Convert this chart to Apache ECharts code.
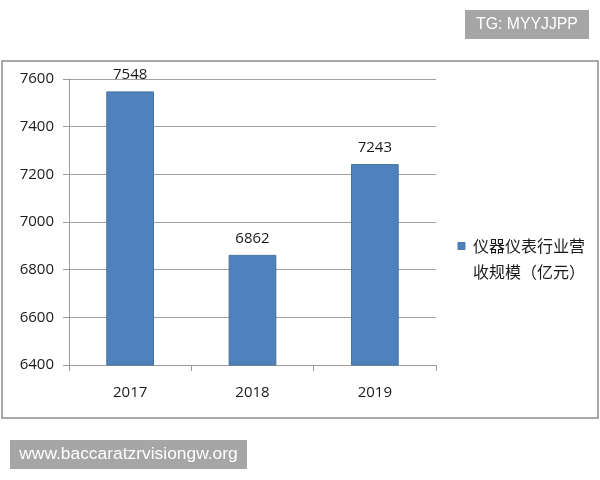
<!DOCTYPE html>
<html>
<head>
<meta charset="utf-8">
<script src="https://cdn.jsdelivr.net/npm/echarts@6/dist/echarts.min.js"></script>
<style>
  html, body { margin: 0; padding: 0; background: #fff; }
  #chart { width: 600px; height: 480px; }
</style>
</head>
<body>
<div id="chart"></div>
<script>
const years = ['2017', '2018', '2019'];
const revenue = [7548, 6862, 7243];
const seriesName = '仪器仪表行业营收规模（亿元）';

const chart = echarts.init(document.getElementById('chart'));

const numFont = '"Open Sans", "Noto Sans", sans-serif';
const barColor = '#4f81bd';

chart.setOption({
    animation: false,
    backgroundColor: '#fff',
    graphic: [
        {
            type: 'rect',
            shape: { x: 2, y: 61, width: 596, height: 357 },
            style: { fill: 'none', stroke: '#8c8c8c', lineWidth: 1.5 },
            z: -1
        },
        {
            type: 'rect',
            shape: { x: 465, y: 10, width: 124, height: 29 },
            style: { fill: '#a6a6a6' }
        },
        {
            type: 'text',
            x: 527, y: 24.5,
            style: {
                text: 'TG: MYYJJPP', fill: '#fff', font: '15.8px "Liberation Sans", sans-serif',
                align: 'center', verticalAlign: 'middle'
            }
        },
        {
            type: 'rect',
            shape: { x: 10, y: 440, width: 237, height: 29 },
            style: { fill: '#a6a6a6' }
        },
        {
            type: 'text',
            x: 128.5, y: 454.5,
            style: {
                text: 'www.baccaratzrvisiongw.org', fill: '#fff', font: '17.4px "Liberation Sans", sans-serif',
                align: 'center', verticalAlign: 'middle'
            }
        }
    ],
    legend: {
        show: true,
        left: 447,
        top: 228,
        orient: 'vertical',
        icon: 'rect',
        itemWidth: 0,
        itemHeight: 0,
        itemGap: 0,
        formatter: function () {
            return '{sq|}{t|仪器仪表行业营}\n{t2|收规模（亿元）}';
        },
        textStyle: {
            fontFamily: '"Noto Sans CJK SC", sans-serif',
            fontSize: 16,
            color: '#1a1a1a',
            lineHeight: 26,
            rich: {
                sq: { width: 7, height: 7, backgroundColor: barColor, borderColor: '#45729f', borderWidth: 0.5 },
                t: { fontFamily: '"Noto Sans CJK SC", sans-serif', fontSize: 16, color: '#1a1a1a', lineHeight: 26, padding: [0, 0, 0, 8] },
                t2: { fontFamily: '"Noto Sans CJK SC", sans-serif', fontSize: 16, color: '#1a1a1a', lineHeight: 26, padding: [0, 0, 0, 15] }
            }
        }
    },
    grid: {
        left: 69, top: 79, width: 367, height: 286
    },
    xAxis: {
        type: 'category',
        data: years,
        axisLine: { lineStyle: { color: '#9a9a9a' } },
        axisTick: { show: true, length: 6, alignWithLabel: false, lineStyle: { color: '#9a9a9a' } },
        axisLabel: { fontFamily: numFont, fontSize: 15, color: '#1a1a1a', margin: 20 }
    },
    yAxis: {
        type: 'value',
        min: 6400,
        max: 7600,
        interval: 200,
        axisLine: { show: true, lineStyle: { color: '#9a9a9a' } },
        axisTick: { show: true, length: 6, lineStyle: { color: '#9a9a9a' } },
        axisLabel: {
            fontFamily: numFont, fontSize: 15, color: '#1a1a1a', margin: 15,
            formatter: function (v) { return String(v); }
        },
        splitLine: { lineStyle: { color: '#a0a0a0' } }
    },
    series: [{
        name: seriesName,
        type: 'bar',
        data: revenue,
        barWidth: '39%',
        itemStyle: { color: barColor, borderColor: '#45729f', borderWidth: 1 },
        label: {
            show: true,
            position: 'top',
            distance: 9,
            fontFamily: numFont,
            fontSize: 15,
            color: '#1a1a1a'
        }
    }]
});
</script>
</body>
</html>
